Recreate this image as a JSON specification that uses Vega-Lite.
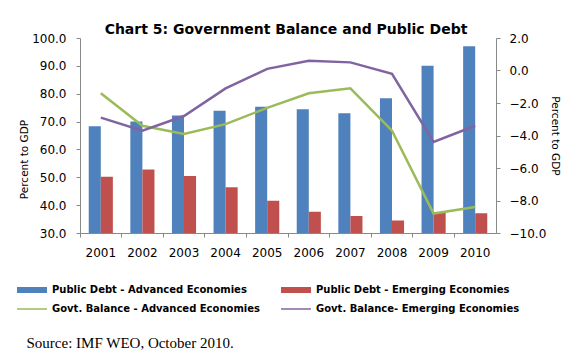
{
  "$schema": "https://vega.github.io/schema/vega-lite/v6.json",
  "width": 416,
  "height": 195,
  "autosize": {"type": "none"},
  "padding": {"left": 80, "top": 38, "right": 80, "bottom": 122},
  "background": "white",
  "title": {"text": "Chart 5: Government Balance and Public Debt", "font": "DejaVu Sans", "fontSize": 14, "fontWeight": "bold", "color": "#000", "anchor": "middle", "baseline": "alphabetic", "offset": -16, "dx": -2},
  "config": {"view": {"stroke": null}, "axis": {"grid": false}},
  "data": {"values": [
    {"year": "2001", "kind": "debt", "series": "Public Debt - Advanced Economies", "value": 68.3},
    {"year": "2002", "kind": "debt", "series": "Public Debt - Advanced Economies", "value": 70.0},
    {"year": "2003", "kind": "debt", "series": "Public Debt - Advanced Economies", "value": 72.2},
    {"year": "2004", "kind": "debt", "series": "Public Debt - Advanced Economies", "value": 73.9},
    {"year": "2005", "kind": "debt", "series": "Public Debt - Advanced Economies", "value": 75.3},
    {"year": "2006", "kind": "debt", "series": "Public Debt - Advanced Economies", "value": 74.4},
    {"year": "2007", "kind": "debt", "series": "Public Debt - Advanced Economies", "value": 73.0},
    {"year": "2008", "kind": "debt", "series": "Public Debt - Advanced Economies", "value": 78.4},
    {"year": "2009", "kind": "debt", "series": "Public Debt - Advanced Economies", "value": 90.0},
    {"year": "2010", "kind": "debt", "series": "Public Debt - Advanced Economies", "value": 97.0},
    {"year": "2001", "kind": "debt", "series": "Public Debt - Emerging Economies", "value": 50.2},
    {"year": "2002", "kind": "debt", "series": "Public Debt - Emerging Economies", "value": 52.8},
    {"year": "2003", "kind": "debt", "series": "Public Debt - Emerging Economies", "value": 50.5},
    {"year": "2004", "kind": "debt", "series": "Public Debt - Emerging Economies", "value": 46.4},
    {"year": "2005", "kind": "debt", "series": "Public Debt - Emerging Economies", "value": 41.6},
    {"year": "2006", "kind": "debt", "series": "Public Debt - Emerging Economies", "value": 37.6},
    {"year": "2007", "kind": "debt", "series": "Public Debt - Emerging Economies", "value": 36.1},
    {"year": "2008", "kind": "debt", "series": "Public Debt - Emerging Economies", "value": 34.5},
    {"year": "2009", "kind": "debt", "series": "Public Debt - Emerging Economies", "value": 37.3},
    {"year": "2010", "kind": "debt", "series": "Public Debt - Emerging Economies", "value": 37.1},
    {"year": "2001", "kind": "balance", "series": "Govt. Balance - Advanced Economies", "value": -1.4},
    {"year": "2002", "kind": "balance", "series": "Govt. Balance - Advanced Economies", "value": -3.4},
    {"year": "2003", "kind": "balance", "series": "Govt. Balance - Advanced Economies", "value": -3.9},
    {"year": "2004", "kind": "balance", "series": "Govt. Balance - Advanced Economies", "value": -3.3},
    {"year": "2005", "kind": "balance", "series": "Govt. Balance - Advanced Economies", "value": -2.3},
    {"year": "2006", "kind": "balance", "series": "Govt. Balance - Advanced Economies", "value": -1.4},
    {"year": "2007", "kind": "balance", "series": "Govt. Balance - Advanced Economies", "value": -1.1},
    {"year": "2008", "kind": "balance", "series": "Govt. Balance - Advanced Economies", "value": -3.7},
    {"year": "2009", "kind": "balance", "series": "Govt. Balance - Advanced Economies", "value": -8.8},
    {"year": "2010", "kind": "balance", "series": "Govt. Balance - Advanced Economies", "value": -8.4},
    {"year": "2001", "kind": "balance", "series": "Govt. Balance- Emerging Economies", "value": -2.9},
    {"year": "2002", "kind": "balance", "series": "Govt. Balance- Emerging Economies", "value": -3.7},
    {"year": "2003", "kind": "balance", "series": "Govt. Balance- Emerging Economies", "value": -2.8},
    {"year": "2004", "kind": "balance", "series": "Govt. Balance- Emerging Economies", "value": -1.1},
    {"year": "2005", "kind": "balance", "series": "Govt. Balance- Emerging Economies", "value": 0.1},
    {"year": "2006", "kind": "balance", "series": "Govt. Balance- Emerging Economies", "value": 0.6},
    {"year": "2007", "kind": "balance", "series": "Govt. Balance- Emerging Economies", "value": 0.5},
    {"year": "2008", "kind": "balance", "series": "Govt. Balance- Emerging Economies", "value": -0.2},
    {"year": "2009", "kind": "balance", "series": "Govt. Balance- Emerging Economies", "value": -4.4},
    {"year": "2010", "kind": "balance", "series": "Govt. Balance- Emerging Economies", "value": -3.4}
  ]},
  "layer": [
    {
      "transform": [{"filter": "datum.kind == 'debt'"}],
      "mark": {"type": "bar", "clip": true},
      "encoding": {
        "x": {"field": "year", "type": "nominal", "scale": {"paddingInner": 0.42, "paddingOuter": 0.21},
          "axis": {"title": "Source: IMF WEO, October 2010.", "titleFont": "Liberation Serif", "titleFontSize": 15, "titleFontWeight": "normal", "titleColor": "#000", "titleAnchor": "start", "titleAlign": "left", "titleBaseline": "alphabetic", "titleX": -54, "titleY": 114,
            "labelAngle": 0, "labelFont": "DejaVu Sans", "labelFontSize": 12, "labelColor": "#000", "labelPadding": 10, "tickSize": 4, "tickColor": "#888", "domainColor": "#888", "bandPosition": -0.362}},
        "xOffset": {"field": "series", "type": "nominal", "sort": ["Public Debt - Advanced Economies", "Public Debt - Emerging Economies"], "scale": {"paddingInner": 0, "paddingOuter": 0}},
        "y": {"field": "value", "type": "quantitative", "scale": {"domain": [30, 100], "nice": false, "zero": false},
          "axis": {"title": "Percent to GDP", "titleFont": "DejaVu Sans", "titleFontSize": 10.5, "titleFontWeight": "normal", "titleColor": "#000", "titleY": 121, "titlePadding": 2,
            "values": [30, 40, 50, 60, 70, 80, 90, 100], "format": ".1f", "labelFont": "DejaVu Sans", "labelFontSize": 12, "labelColor": "#000", "tickSize": 4, "labelPadding": 10, "tickColor": "#888", "domainColor": "#888"}},
        "color": {"field": "series", "type": "nominal",
          "scale": {"domain": ["Public Debt - Advanced Economies", "Govt. Balance - Advanced Economies", "Public Debt - Emerging Economies", "Govt. Balance- Emerging Economies"], "range": ["#4F81BD", "#9BBB59", "#C0504D", "#8064A2"]},
          "legend": {"orient": "none", "legendX": -63, "legendY": 247, "columns": 2, "columnPadding": 9, "rowPadding": 2, "title": null,
            "symbolType": "stroke", "symbolSize": 900, "symbolStrokeWidth": 2, "symbolOffset": 10, "labelFont": "DejaVu Sans", "labelFontSize": 10, "labelFontWeight": "bold", "labelColor": "#000", "labelOffset": 15, "labelLimit": 300,
            "encode": {"symbols": {"update": {"strokeWidth": {"signal": "datum.value == 'Public Debt - Advanced Economies' || datum.value == 'Public Debt - Emerging Economies' ? 6 : 1.5"}}}}}}
      }
    },
    {
      "transform": [{"filter": "datum.kind == 'balance'"}],
      "mark": {"type": "line", "strokeWidth": 2.5},
      "encoding": {
        "x": {"field": "year", "type": "nominal"},
        "y": {"field": "value", "type": "quantitative", "scale": {"domain": [-10, 2], "nice": false, "zero": false},
          "axis": {"orient": "right", "title": "Percent to GDP", "titleFont": "DejaVu Sans", "titleFontSize": 10.5, "titleFontWeight": "normal", "titleColor": "#000", "titlePadding": 4,
            "values": [-10, -8, -6, -4, -2, 0, 2], "format": ".1f", "labelFont": "DejaVu Sans", "labelFontSize": 12, "labelColor": "#000", "tickSize": 4, "labelPadding": 9, "tickColor": "#888", "domainColor": "#888"}},
        "color": {"field": "series", "type": "nominal"}
      }
    }
  ],
  "resolve": {"scale": {"y": "independent"}}
}
